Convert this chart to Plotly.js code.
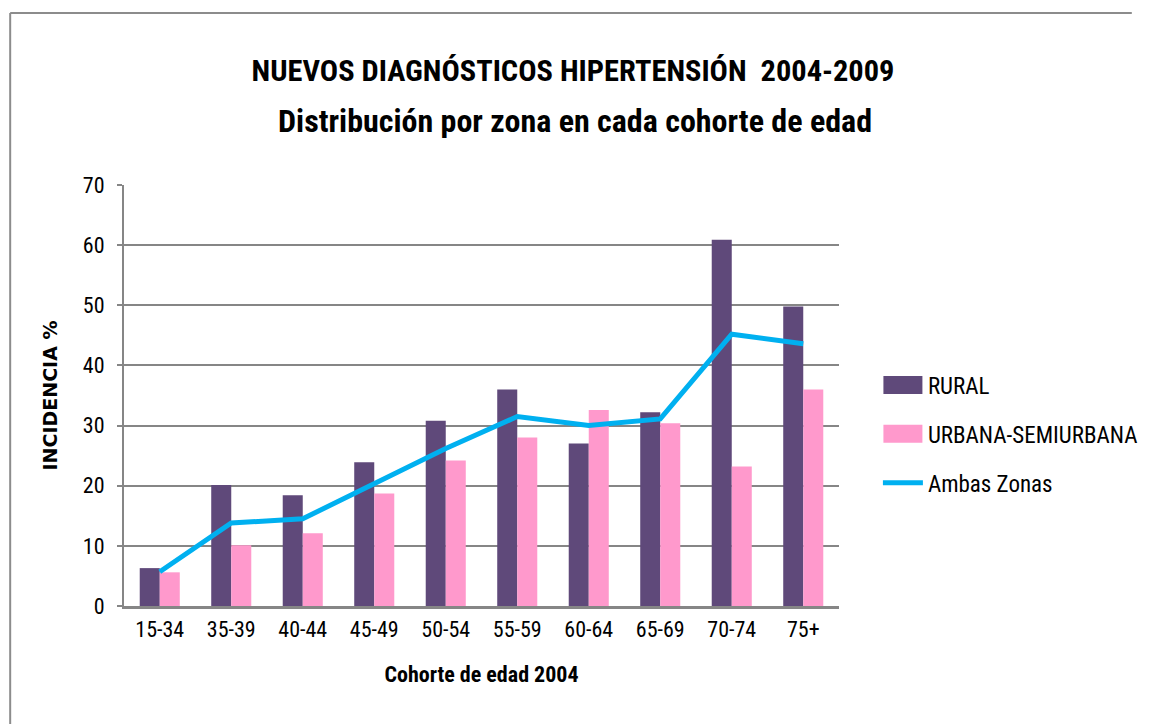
<!DOCTYPE html>
<html>
<head>
<meta charset="utf-8">
<script src="https://cdn.plot.ly/plotly-3.0.1.min.js"></script>
<style>
  html, body { margin: 0; padding: 0; background: #fff; }
  #chart { width: 1155px; height: 724px; }
</style>
</head>
<body>
<div id="chart"></div>
<script>
const categories = ["15-34", "35-39", "40-44", "45-49", "50-54", "55-59", "60-64", "65-69", "70-74", "75+"];
const rural = [6.3, 20.1, 18.4, 23.9, 30.8, 36.0, 27.0, 32.2, 60.9, 49.8];
const urbana = [5.6, 10.1, 12.1, 18.7, 24.2, 28.0, 32.6, 30.4, 23.2, 36.0];
const ambas = [5.7, 13.8, 14.5, 20.4, 26.2, 31.5, 30.0, 31.1, 45.2, 43.6];
const yTicks = [0, 10, 20, 30, 40, 50, 60, 70];

const COND = '"Roboto Condensed", "Liberation Sans Narrow", sans-serif';

const traces = [
  {
    type: 'bar', name: 'RURAL', x: categories, y: rural,
    marker: { color: '#5F497A' }, legendgroup: 'a'
  },
  {
    type: 'bar', name: 'URBANA-SEMIURBANA', x: categories, y: urbana,
    marker: { color: '#FF99CC' }, legendgroup: 'b'
  },
  {
    type: 'scatter', mode: 'lines', name: 'Ambas Zonas', x: categories, y: ambas,
    line: { color: '#00B0F0', width: 5 }, legendgroup: 'c'
  }
];

// plot area in pixels: left 124, right 859, top 185, bottom 606
const L = 124, R = 859, T = 185, B = 606, W = 1155, H = 724;
const pw = R - L, ph = B - T;
const px = v => (v - L) / pw;
const py = v => (B - v) / ph;

const layout = {
  width: W, height: H,
  paper_bgcolor: '#ffffff', plot_bgcolor: '#ffffff',
  margin: { l: L, r: W - R, t: T, b: H - B, pad: 0 },
  barmode: 'group', bargap: 0.44, bargroupgap: 0,
  showlegend: true,
  title: {
    text: '<b>NUEVOS DIAGNÓSTICOS HIPERTENSIÓN  2004-2009</b>',
    font: { family: COND, size: 30.4, color: '#000' },
    x: 573 / W, xanchor: 'center', xref: 'container',
    y: 1 - 70 / H, yanchor: 'middle', yref: 'container'
  },
  annotations: [
    {
      text: '<b>Distribución por zona en cada cohorte de edad</b>',
      xref: 'paper', yref: 'paper', x: px(588), y: py(121),
      xanchor: 'center', yanchor: 'middle', showarrow: false,
      font: { family: COND, size: 32, color: '#000' }
    }
  ],
  xaxis: {
    type: 'category',
    showline: true, linecolor: '#868686', linewidth: 3,
    ticks: '', showgrid: false, zeroline: false,
    tickfont: { family: COND, size: 22, color: '#000' },
    ticklabelstandoff: 2,
    title: {
      text: '<b>Cohorte de edad 2004</b>',
      font: { family: COND, size: 22, color: '#000' },
      standoff: 26
    },
    fixedrange: true
  },
  yaxis: {
    range: [0, 70], tickvals: yTicks, ticktext: yTicks.map(String),
    showline: true, linecolor: '#868686', linewidth: 2,
    ticks: 'outside', ticklen: 5, tickcolor: '#868686', tickwidth: 2,
    showgrid: true, gridcolor: '#868686', gridwidth: 2,
    zeroline: false,
    tickfont: { family: COND, size: 22, color: '#000' },
    ticklabelstandoff: 8,
    title: {
      text: '<b>INCIDENCIA %</b>',
      font: { family: '"DejaVu Sans", sans-serif', size: 19, color: '#000' },
      standoff: 20
    },
    fixedrange: true
  },
  legend: {
    x: px(899), y: py(363.5), xanchor: 'left', yanchor: 'top',
    font: { family: COND, size: 23, color: '#000' },
    bgcolor: 'rgba(0,0,0,0)', borderwidth: 0,
    traceorder: 'grouped', tracegroupgap: 16, itemwidth: 40
  },
  shapes: [
    {
      type: 'line', xref: 'paper', yref: 'paper',
      x0: px(7), x1: px(1160), y0: py(13), y1: py(13),
      line: { color: '#8c8c8c', width: 2 }
    },
    {
      type: 'line', xref: 'paper', yref: 'paper',
      x0: px(7), x1: px(7), y0: py(13), y1: py(740),
      line: { color: '#8c8c8c', width: 2 }
    }
  ]
};

Plotly.newPlot('chart', traces, layout, { displayModeBar: false, staticPlot: true }).then(gd => {
  // wider rectangular swatches for the bar entries of the legend
  gd.querySelectorAll('.legend .legendpoints path').forEach(p => {
    if ((p.getAttribute('d') || '').replace(/\s/g, '') === 'M6,6H-6V-6H6Z') {
      p.setAttribute('d', 'M19.5,9H-19.5V-9H19.5Z');
    }
  });
});
</script>
</body>
</html>
